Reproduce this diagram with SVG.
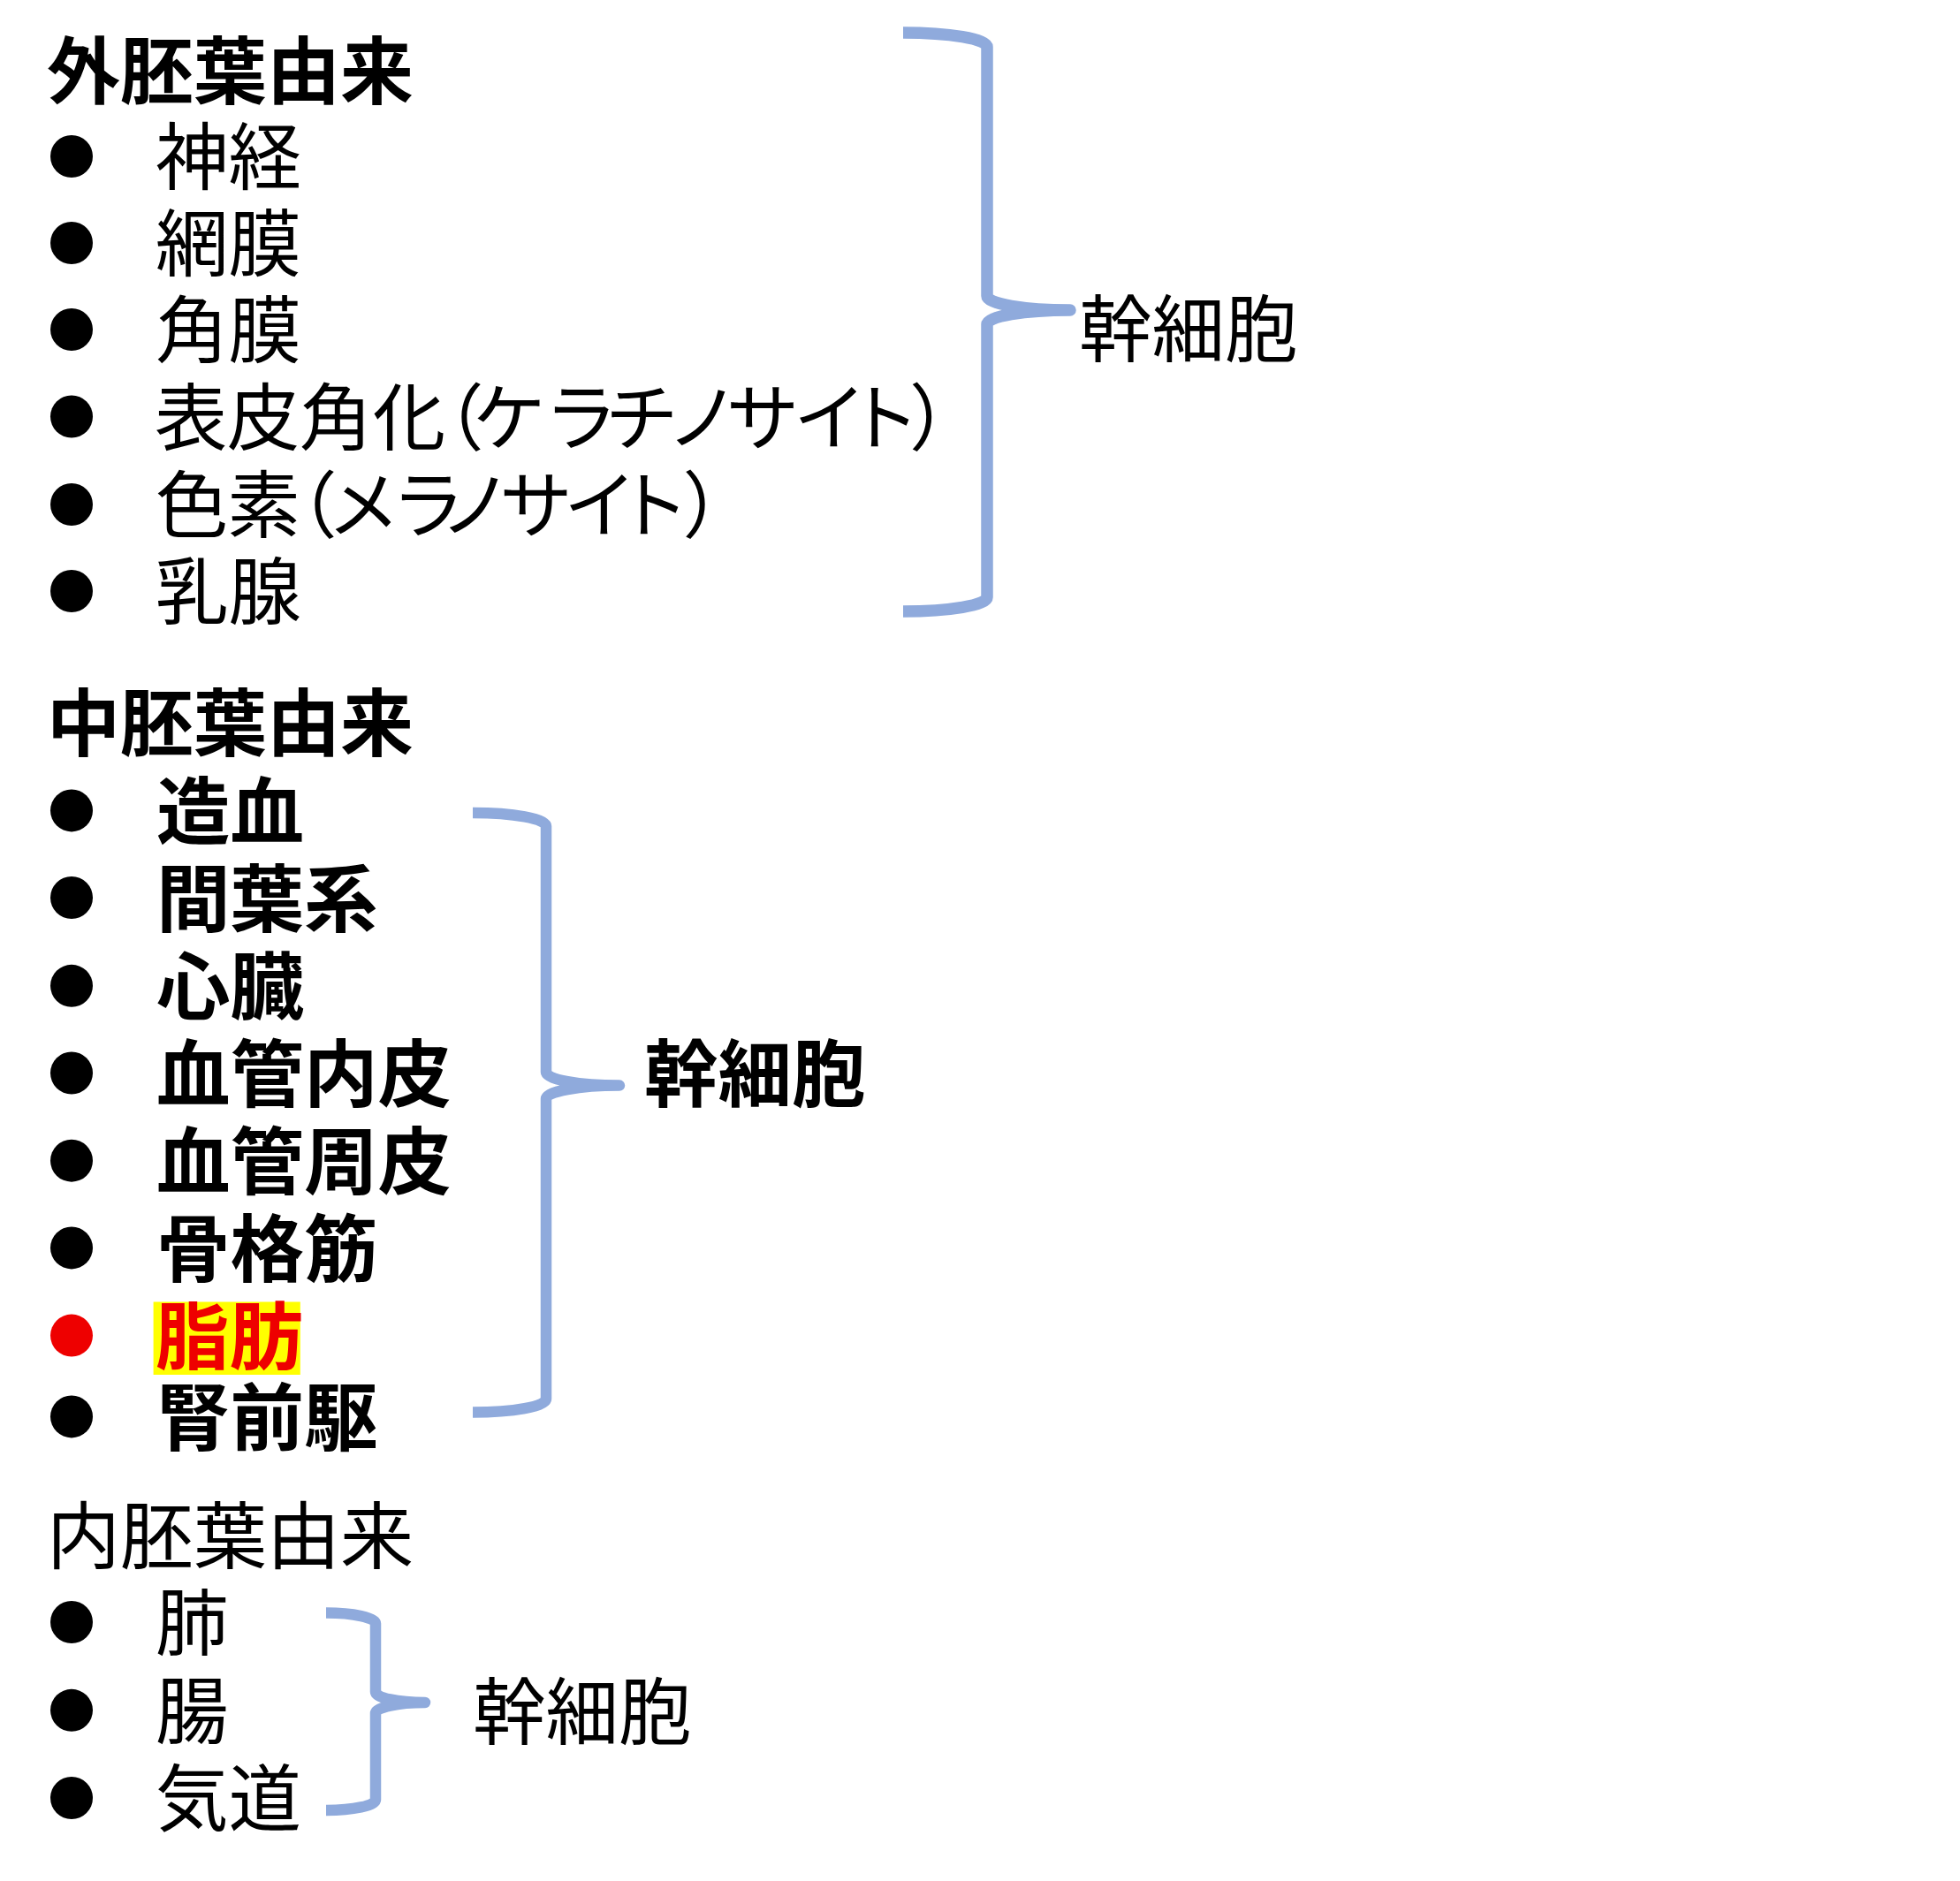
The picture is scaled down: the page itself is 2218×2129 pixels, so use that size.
<svg xmlns="http://www.w3.org/2000/svg" width="2218" height="2129" viewBox="0 0 2218 2129">
<style>
text{font-family:"Noto Sans CJK JP","Noto Sans CJK SC",sans-serif;fill:#000;}
.h{font-size:83px;}
.b{font-weight:700;}
.it{font-size:82.5px;}
.im{font-size:83.5px;font-weight:700;}
.kana{font-feature-settings:"palt";text-anchor:middle;}
.dot{fill:#000;}
.brace{fill:none;stroke:#8FAADC;stroke-width:12.5;stroke-linecap:butt;stroke-linejoin:round;}
</style>
<rect width="2218" height="2129" fill="#fff"/>
<g id="ectoderm">
  <text class="h b" x="53" y="110.5">外胚葉由来</text>
  <g id="ecto-1"><circle class="dot" cx="81" cy="177" r="24"/><text class="it" x="176" y="208">神経</text></g>
  <g id="ecto-2"><circle class="dot" cx="81" cy="275" r="24"/><text class="it" x="176" y="306">網膜</text></g>
  <g id="ecto-3"><circle class="dot" cx="81" cy="373" r="24"/><text class="it" x="176" y="404">角膜</text></g>
  <g id="ecto-4"><circle class="dot" cx="81" cy="471.5" r="24"/><text class="it kana" x="216 298 380 463 524 575 658 725.5 793 862.6 937.5 1002.5 1052.5" y="502.5">表皮角化（ケラチノサイト）</text></g>
  <g id="ecto-5"><circle class="dot" cx="81" cy="571" r="24"/><text class="it kana" x="217 298.5 358 411 485 536 606 677.5 741.5 796" y="602">色素（メラノサイト）</text></g>
  <g id="ecto-6"><circle class="dot" cx="81" cy="669" r="24"/><text class="it" x="176" y="700">乳腺</text></g>
</g>
<g id="stem-1"><text class="it" x="1221" y="403">幹細胞</text></g>
<g id="mesoderm">
  <text class="h b" x="53" y="849">中胚葉由来</text>
  <g id="meso-1"><circle class="dot" cx="81" cy="917.4" r="24"/><text class="im" x="177" y="949">造血</text></g>
  <g id="meso-2"><circle class="dot" cx="81" cy="1016" r="24"/><text class="im" x="177" y="1047.5">間葉系</text></g>
  <g id="meso-3"><circle class="dot" cx="81" cy="1115.8" r="24"/><text class="im" x="177" y="1147">心臓</text></g>
  <g id="meso-4"><circle class="dot" cx="81" cy="1214.5" r="24"/><text class="im" x="177" y="1246">血管内皮</text></g>
  <g id="meso-5"><circle class="dot" cx="81" cy="1313.7" r="24"/><text class="im" x="177" y="1345">血管周皮</text></g>
  <g id="meso-6"><circle class="dot" cx="81" cy="1412.4" r="24"/><text class="im" x="177" y="1444">骨格筋</text></g>
  <g id="meso-7"><circle cx="81" cy="1511.6" r="24" fill="#EE0000"/><rect x="173.6" y="1473.5" width="166.2" height="82.5" fill="#FFFF00"/><text class="im" x="176" y="1543" style="fill:#EE0000">脂肪</text></g>
  <g id="meso-8"><circle class="dot" cx="81" cy="1603.4" r="24"/><text class="im" x="177" y="1635">腎前駆</text></g>
</g>
<g id="stem-2"><text class="im" x="729" y="1245.5">幹細胞</text></g>
<g id="endoderm">
  <text class="h" x="53" y="1768.5">内胚葉由来</text>
  <g id="endo-1"><circle class="dot" cx="81" cy="1836" r="24"/><text class="it" x="176" y="1867">肺</text></g>
  <g id="endo-2"><circle class="dot" cx="81" cy="1935.8" r="24"/><text class="it" x="176" y="1967">腸</text></g>
  <g id="endo-3"><circle class="dot" cx="81" cy="2035" r="24"/><text class="it" x="176" y="2066">気道</text></g>
</g>
<g id="stem-3"><text class="it" x="535" y="1967.5">幹細胞</text></g>
<g id="connectors">
  <path class="brace" style="stroke-width:13.5" d="M1022 37 A95 16 0 0 1 1117 53 L1117 335 A94 16 0 0 0 1211 351 A94 16 0 0 0 1117 367 L1117 676 A95 16 0 0 1 1022 692"/>
  <path class="brace" d="M535 920 A83 15 0 0 1 618 935 L618 1213.6 A83 15 0 0 0 701 1228.6 A83 15 0 0 0 618 1243.6 L618 1583.6 A83 15 0 0 1 535 1598.6"/>
  <path class="brace" d="M369 1825.5 A56 12 0 0 1 425 1837.5 L425 1915 A56 12 0 0 0 481 1927 A56 12 0 0 0 425 1939 L425 2037 A56 12 0 0 1 369 2049"/>
</g>
</svg>
